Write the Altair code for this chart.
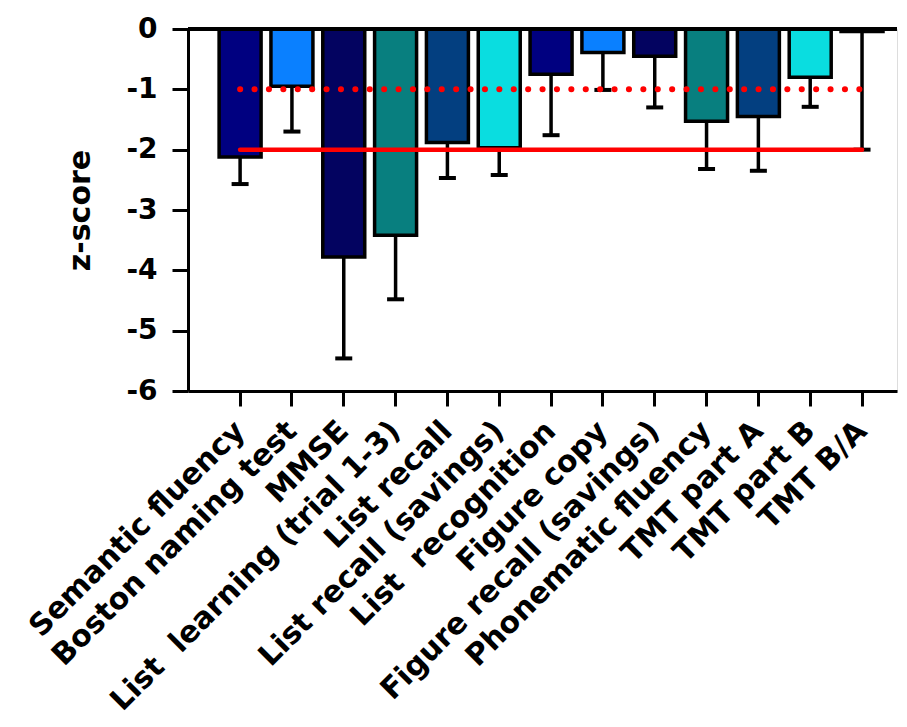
import altair as alt
import pandas as pd

cats = [
    "Semantic fluency",
    "Boston naming test",
    "MMSE",
    "List\u00a0 learning (trial 1-3)",
    "List recall",
    "List recall (savings)",
    "List\u00a0 recognition",
    "Figure copy",
    "Figure recall (savings)",
    "Phonematic fluency",
    "TMT part A",
    "TMT part B",
    "TMT B/A",
]
means = [-2.12, -0.95, -3.78, -3.42, -1.88, -1.97, -0.75, -0.39, -0.45, -1.53, -1.45, -0.80, -0.04]
lower = [-2.57, -1.70, -5.46, -4.48, -2.47, -2.42, -1.76, -1.01, -1.30, -2.32, -2.35, -1.29, -2.00]
colors = ["#000080", "#0A80FF", "#030360", "#087F7F", "#033F80", "#0ADDE0",
          "#000080", "#0A80FF", "#030360", "#087F7F", "#033F80", "#0ADDE0", "#000080"]

ref_cats = [cats[0], cats[-1]]
ref_dotted = [-1, -1]
ref_solid = [-2, -2]

df = pd.DataFrame({"cat": cats, "mean": means, "lower": lower})
df_dot = pd.DataFrame({"cat": ref_cats, "v": ref_dotted})
df_sol = pd.DataFrame({"cat": ref_cats, "v": ref_solid})

W, H = 709, 362
FONT = "DejaVu Sans"

xscale = alt.Scale(domain=cats, paddingInner=0.19, paddingOuter=0.435, align=0.69)
yscale = alt.Scale(domain=[-6, 0], nice=False, zero=False)

xaxis = alt.Axis(
    title=None, labelAngle=-45, labelAlign="right", labelBaseline="middle",
    labelFont=FONT, labelFontWeight="bold", labelFontSize=30, labelColor="black",
    labelPadding=20, tickSize=15, tickWidth=3, tickColor="black",
    domainWidth=3, domainColor="black", labelLimit=1000, labelOverlap=False,
)
yaxis = alt.Axis(
    title="z-score", titleFont=FONT, titleFontWeight="bold", titleFontSize=30,
    titleColor="black", titlePadding=30,
    values=[0, -1, -2, -3, -4, -5, -6],
    labelExpr="'' + datum.value",
    labelFont=FONT, labelFontWeight="bold", labelFontSize=28, labelColor="black",
    labelPadding=15, tickSize=16, tickWidth=3, tickColor="black",
    domainWidth=3, domainColor="black", grid=False,
)

x = alt.X("cat:N", sort=cats, scale=xscale, axis=xaxis)

bars = alt.Chart(df).mark_bar(stroke="black", strokeWidth=3.5).encode(
    x=x,
    y=alt.Y("mean:Q", scale=yscale, axis=yaxis),
    color=alt.Color("cat:N", scale=alt.Scale(domain=cats, range=colors), legend=None),
)

err = alt.Chart(df).mark_rule(color="black", strokeWidth=3.5).encode(
    x=alt.X("cat:N", sort=cats),
    y="mean:Q",
    y2="lower:Q",
)

caps = alt.Chart(df).mark_tick(color="black", size=17, thickness=4, opacity=1).encode(
    x=alt.X("cat:N", sort=cats),
    y="lower:Q",
)

dotted = alt.Chart(df_dot).mark_line(
    color="#FF0000", strokeWidth=6, strokeDash=[0.1, 14.3], strokeCap="round"
).encode(x=alt.X("cat:N", sort=cats), y="v:Q")

solid = alt.Chart(df_sol).mark_line(
    color="#FF0000", strokeWidth=4.5, strokeCap="round"
).encode(x=alt.X("cat:N", sort=cats), y="v:Q")

zero = alt.Chart(df).mark_rule(color="black", strokeWidth=3).encode(
    y=alt.datum(0), x=alt.value(0), x2=alt.value(W)
)

chart = alt.layer(bars, err, caps, dotted, solid, zero).properties(
    width=W, height=H,
    autosize=alt.AutoSizeParams(type="none"),
    padding={"left": 180, "top": 21, "right": 2, "bottom": 336},
).configure_view(stroke=None).configure(background="white")

chart.save("out.html", embed_options={"renderer": "svg", "actions": False})
